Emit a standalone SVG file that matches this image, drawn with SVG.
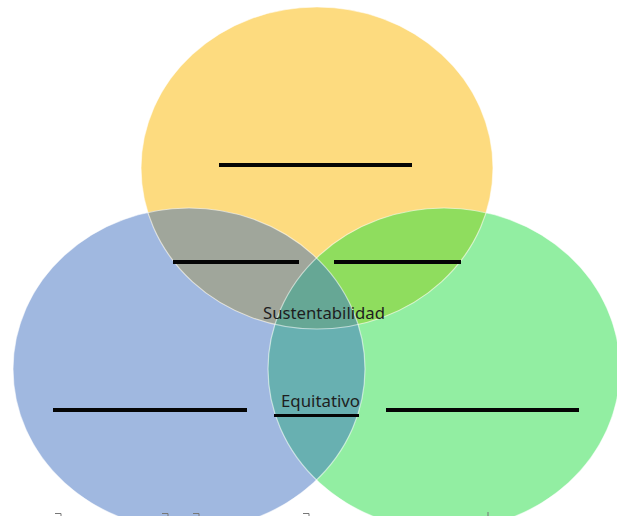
<svg xmlns="http://www.w3.org/2000/svg" width="617" height="516" viewBox="0 0 617 516">
  <style>
    .blank { stroke: #050505; stroke-width: 4; stroke-linecap: butt; }
    .lbl { font-family: "Noto Sans", "Open Sans", "DejaVu Sans", sans-serif; font-size: 16.5px; fill: #1e1e1e; }
    .edge { fill: none; stroke: #ffffff; stroke-width: 1.2; stroke-opacity: 0.55; }
    .tick { fill: none; stroke: #777; stroke-width: 1; }
  </style>
  <defs>
    <ellipse id="eY" cx="317" cy="168" rx="176" ry="161"/>
    <ellipse id="eB" cx="189" cy="369" rx="176" ry="161"/>
    <ellipse id="eG" cx="444" cy="369" rx="176" ry="161"/>
    <clipPath id="cY"><use href="#eY"/></clipPath>
    <clipPath id="cB"><use href="#eB"/></clipPath>
    <clipPath id="cG"><use href="#eG"/></clipPath>
  </defs>
  <rect width="617" height="516" fill="#ffffff"/>

  <g id="circle-blue"><use href="#eB" fill="#A0B8E0"/></g>
  <g id="circle-green"><use href="#eG" fill="#92EEA2"/></g>
  <g id="circle-yellow"><use href="#eY" fill="#FDDB7F"/></g>

  <g id="overlaps">
    <use href="#eY" fill="#A0A69B" clip-path="url(#cB)"/>
    <use href="#eY" fill="#8FDD5E" clip-path="url(#cG)"/>
    <use href="#eB" fill="#68B0B1" clip-path="url(#cG)"/>
    <g clip-path="url(#cG)"><use href="#eY" fill="#66A795" clip-path="url(#cB)"/></g>
  </g>

  <g id="edges">
    <use href="#eY" class="edge"/>
    <use href="#eB" class="edge"/>
    <use href="#eG" class="edge"/>
  </g>

  <g id="blanks">
    <line class="blank" x1="219" y1="165" x2="412" y2="165"/>
    <line class="blank" x1="173" y1="262" x2="299" y2="262"/>
    <line class="blank" x1="334" y1="262" x2="461" y2="262"/>
    <line class="blank" x1="53" y1="410" x2="247" y2="410"/>
    <line class="blank" x1="386" y1="410" x2="579" y2="410"/>
    <line class="blank" x1="274" y1="415.5" x2="359" y2="415.5" style="stroke-width:3"/>
  </g>

  <g id="labels">
    <text class="lbl" x="263" y="319" textLength="122" lengthAdjust="spacingAndGlyphs">Sustentabilidad</text>
    <text class="lbl" x="281" y="407" textLength="79" lengthAdjust="spacingAndGlyphs">Equitativo</text>
  </g>

  <g id="bottom-marks">
    <path class="tick" d="M55 513.5 H61 V516"/>
    <path class="tick" d="M162 513.5 H168 V516"/>
    <path class="tick" d="M193 513.5 H199 V516"/>
    <path class="tick" d="M303 513.5 H309 V516"/>
    <path class="tick" d="M488 516 V512"/>
  </g>
</svg>
